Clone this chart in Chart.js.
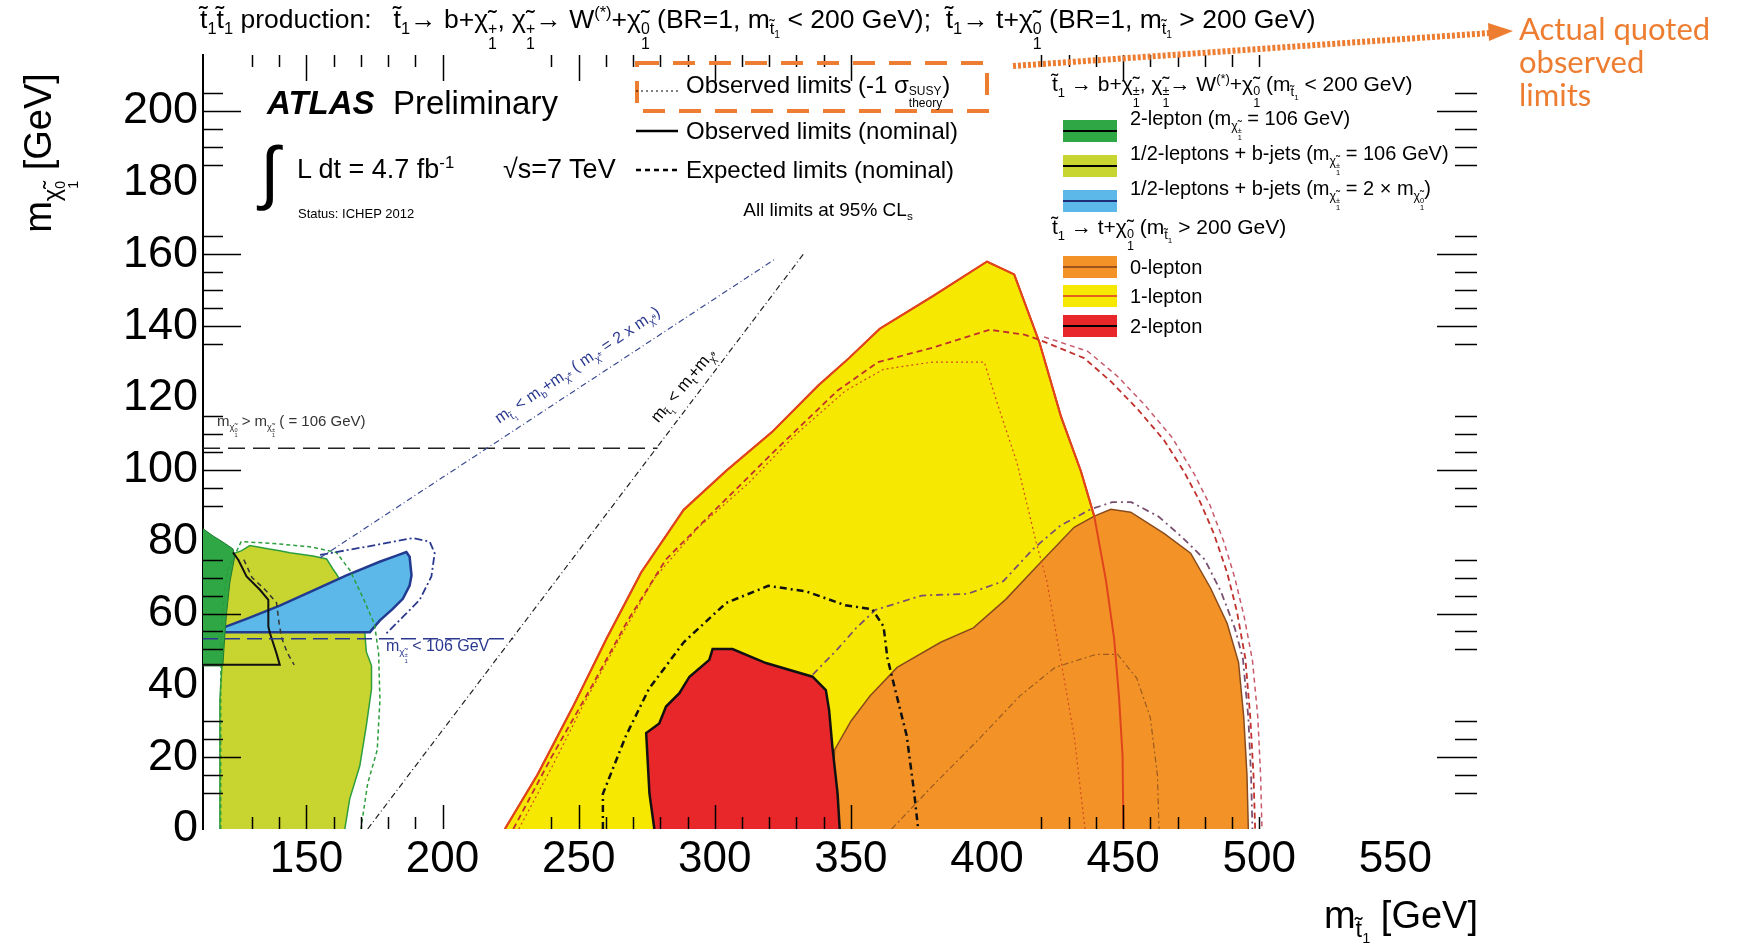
<!DOCTYPE html>
<html>
<head>
<meta charset="utf-8">
<script src="https://cdn.jsdelivr.net/npm/chart.js@4.4.1/dist/chart.umd.min.js"></script>
<style>
  body { margin: 0; background: #fff; }
  #wrap { position: relative; width: 1742px; height: 948px; font-family: 'Liberation Sans', Arial, sans-serif; color: #000; overflow: hidden; }
  #wrap canvas, #wrap svg { position: absolute; left: 0; top: 0; }
  #wrap svg { pointer-events: none; }
  .t { position: absolute; white-space: nowrap; line-height: 1; transform: translateY(-50%); }
  sub, sup { line-height: 0; font-size: 0.62em; }
  .ss { display: inline-flex; flex-direction: column; font-size: 0.6em; line-height: 0.95; vertical-align: -0.35em; }
  .box { position: absolute; left: 1063px; width: 54px; height: 22px; }
  .box i { position: absolute; left: 0; right: 0; top: 10px; height: 2px; }
</style>
</head>
<body>
<div id="wrap">
  <canvas id="c" width="1742" height="948"></canvas>
  <svg width="1742" height="948">
    <line x1="1013" y1="66" x2="1490" y2="33" stroke="#ED7D31" stroke-width="6" stroke-dasharray="3 2"/>
    <polygon points="1513,31 1489,41 1488,23" fill="#ED7D31"/>
    <rect x="637" y="63" width="350" height="48" fill="none" stroke="#ED7D31" stroke-width="4" stroke-dasharray="22 14"/>
    <line x1="636" y1="91" x2="678" y2="91" stroke="#000" stroke-width="1.2" stroke-dasharray="2 3"/>
    <line x1="636" y1="131" x2="678" y2="131" stroke="#000" stroke-width="2.5"/>
    <line x1="636" y1="170" x2="678" y2="170" stroke="#000" stroke-width="2.5" stroke-dasharray="5 4"/>
  </svg>

  <div class="t" style="left:200px;top:28px;font-size:26.5px">t&#771;<sub>1</sub>t&#771;<sub>1</sub> production:&nbsp;&nbsp; t&#771;<sub>1</sub>&#8594; b+&#967;&#771;<span class="ss"><span>+</span><span>1</span></span>, &#967;&#771;<span class="ss"><span>+</span><span>1</span></span>&#8594; W<sup>(*)</sup>+&#967;&#771;<span class="ss"><span>0</span><span>1</span></span> (BR=1, m<sub>t&#771;<sub>1</sub></sub> &lt; 200 GeV);&nbsp; t&#771;<sub>1</sub>&#8594; t+&#967;&#771;<span class="ss"><span>0</span><span>1</span></span> (BR=1, m<sub>t&#771;<sub>1</sub></sub> &gt; 200 GeV)</div>

  <div class="t" style="left:1519px;top:61px;font-family:Lato,'Open Sans',sans-serif;font-size:31px;color:#ED7D31;line-height:33px">Actual quoted<br>observed<br>limits</div>

  <div class="t" style="left:267px;top:102px;font-size:33px"><b><i>ATLAS</i></b>&nbsp; Preliminary</div>
  <div class="t" style="left:260px;top:172px;font-size:70px;font-family:'DejaVu Sans',sans-serif;font-weight:200">&#8747;</div>
  <div class="t" style="left:297px;top:169px;font-size:27px">L dt = 4.7 fb<sup>-1</sup></div>
  <div class="t" style="left:503px;top:169px;font-size:27px">&#8730;s=7 TeV</div>
  <div class="t" style="left:298px;top:213px;font-size:13px">Status: ICHEP 2012</div>

  <div class="t" style="left:686px;top:91px;font-size:24px">Observed limits (-1 &#963;<span class="ss" style="font-size:0.5em;vertical-align:-0.2em"><span>SUSY</span><span>theory</span></span>)</div>
  <div class="t" style="left:686px;top:131px;font-size:24px">Observed limits (nominal)</div>
  <div class="t" style="left:686px;top:170px;font-size:24px">Expected limits (nominal)</div>
  <div class="t" style="left:828px;top:209px;font-size:19px;transform:translate(-50%,-50%)">All limits at 95% CL<sub>s</sub></div>

  <div class="t" style="left:1052px;top:92px;font-size:21px">t&#771;<sub>1</sub> &#8594; b+&#967;&#771;<span class="ss"><span>&#177;</span><span>1</span></span>, &#967;&#771;<span class="ss"><span>&#177;</span><span>1</span></span>&#8594; W<sup>(*)</sup>+&#967;&#771;<span class="ss"><span>0</span><span>1</span></span> (m<sub>t&#771;<sub>1</sub></sub> &lt; 200 GeV)</div>
  <div class="box" style="top:120px;background:#2fa744"><i style="background:#000"></i></div>
  <div class="t" style="left:1130px;top:124px;font-size:20px">2-lepton (m<sub>&#967;&#771;<span class="ss"><span>&#177;</span><span>1</span></span></sub> = 106 GeV)</div>
  <div class="box" style="top:155px;background:#c8d530"><i style="background:#000"></i></div>
  <div class="t" style="left:1130px;top:159px;font-size:20px">1/2-leptons + b-jets (m<sub>&#967;&#771;<span class="ss"><span>&#177;</span><span>1</span></span></sub> = 106 GeV)</div>
  <div class="box" style="top:190px;background:#5bb8e8"><i style="background:#1d2d7a"></i></div>
  <div class="t" style="left:1130px;top:194px;font-size:20px">1/2-leptons + b-jets (m<sub>&#967;&#771;<span class="ss"><span>&#177;</span><span>1</span></span></sub> = 2 &#215; m<sub>&#967;&#771;<span class="ss"><span>0</span><span>1</span></span></sub>)</div>
  <div class="t" style="left:1052px;top:235px;font-size:21px">t&#771;<sub>1</sub> &#8594; t+&#967;&#771;<span class="ss"><span>0</span><span>1</span></span> (m<sub>t&#771;<sub>1</sub></sub> &gt; 200 GeV)</div>
  <div class="box" style="top:256px;background:#f39327"><i style="background:#a0521d"></i></div>
  <div class="t" style="left:1130px;top:267px;font-size:20px">0-lepton</div>
  <div class="box" style="top:285px;background:#f6e800"><i style="background:#e2601c"></i></div>
  <div class="t" style="left:1130px;top:296px;font-size:20px">1-lepton</div>
  <div class="box" style="top:315px;background:#e8272b"><i style="background:#000"></i></div>
  <div class="t" style="left:1130px;top:326px;font-size:20px">2-lepton</div>

  <div class="t" style="left:217px;top:426px;font-size:15px;color:#333">m<sub>&#967;&#771;<span class="ss"><span>0</span><span>1</span></span></sub> &gt; m<sub>&#967;&#771;<span class="ss"><span>&#177;</span><span>1</span></span></sub> ( = 106 GeV)</div>
  <div class="t" style="left:386px;top:651px;font-size:16px;color:#2b3990">m<sub>&#967;&#771;<span class="ss"><span>&#177;</span><span>1</span></span></sub> &lt; 106 GeV</div>
  <div class="t" style="left:578px;top:366px;font-size:16px;color:#2b3990;transform:translate(-50%,-50%) rotate(-34deg)">m<sub>t&#771;<sub>1</sub></sub> &lt; m<sub>b</sub>+m<sub>&#967;&#771;<sup>&#177;</sup></sub> ( m<sub>&#967;&#771;<sup>&#177;</sup></sub> = 2 x m<sub>&#967;&#771;<sup>0</sup></sub>)</div>
  <div class="t" style="left:684px;top:386px;font-size:17px;transform:translate(-50%,-50%) rotate(-50deg)">m<sub>t&#771;<sub>1</sub></sub> &lt; m<sub>t</sub>+m<sub>&#967;&#771;<sup>0</sup></sub></div>

  <div class="t" style="left:50px;top:153px;font-size:38px;transform:translate(-50%,-50%) rotate(-90deg)">m<sub>&#967;&#771;<span class="ss"><span>0</span><span>1</span></span></sub> [GeV]</div>
  <div class="t" style="right:264px;top:917px;font-size:38px">m<sub>t&#771;<sub>1</sub></sub> [GeV]</div>
</div>

<script>
// values: [m_stop, m_neutralino] in GeV
const oneLepton = [[222.9,0],[234.9,15.2],[247.6,33.6],[260.3,53.1],[273,71.5],[288.6,88.9],[304.1,99.7],[321,110.5],[338,123.5],[349.3,131.1],[360.6,139.3],[380.4,148.5],[400,158],[410,154.4],[419.3,135.4],[427.2,114.8],[434.5,99.6],[439.4,87.1],[443.7,69.2],[446.7,53],[448.5,36.7],[449.8,20.4],[450.1,0]];
const zeroLepton = [[343,0],[344,22],[350,30],[357,37],[367,45],[383,52],[395,56],[407,64],[420,74.5],[432,84],[439.4,87.1],[445.5,89],[452.8,88.2],[465,82.3],[474.8,76.8],[482.1,67.1],[488.2,57.3],[492.4,46.4],[494.3,31.3],[495.5,15],[496,0]];
const twoLepton = [[277.8,0],[276,9.9],[274.8,26.7],[279.6,29.4],[282.1,34.1],[287,37.8],[290.7,42.4],[298,47.1],[299.2,50.1],[306.5,50.1],[318.8,46.2],[335.9,42.4],[340.8,38.7],[342,33.1],[343.2,22.9],[345.1,9.9],[345.9,0]];
const bjetsSame = [[118,0],[118.2,36],[119,46],[120,64],[121.2,72.4],[123,76.6],[126.2,77.5],[129.2,78.9],[135.8,78],[140.2,77.5],[143.9,76.9],[152.4,76],[157.4,75.2],[159.7,72.4],[161,71],[165,66],[169,60],[171.4,55],[172,49.3],[173.9,45.5],[173.9,39],[172,28.8],[169.6,17.6],[165.9,8.4],[164.1,0]];
const bjetsHalf = [[118.2,55.7],[128,58.5],[140.2,62.2],[152.4,66.4],[164.7,70.6],[176.9,74.4],[183.1,76.1],[186.7,77.1],[187.9,75.8],[188.6,70.6],[187.9,67.8],[185.4,64.1],[181.7,61.3],[176.9,58],[173.3,54.8],[118.2,54.8]];
const twoLeptonLow = [[112,83.6],[115.7,81.6],[119.3,79.9],[123,78],[123.7,76],[121.9,68.8],[120.7,60.4],[120.1,54.9],[119.3,45.4],[112,45.4]];

const twoLeptonLowObs = [[123,77],[125,74.9],[128,70.3],[132.9,66.6],[136,63.8],[136,56.4],[136.6,54.5],[139,48.9],[140.2,45.7],[112,45.7]];
const twoLeptonLowExp = [[127,75],[130,70],[135,66.5],[139,63],[140,57],[141,53],[143,49],[145.5,45.7]];
const bjetsHalfExp = [[155,76.3],[172,78.6],[189.1,81],[195.3,80],[197.1,76.8],[195.9,70.3],[191.6,63.8],[185.5,59.1],[179.4,54.5]];
const bjetsSameExp = [[118.5,0],[118.5,40],[119,60],[121,72],[126,80],[138,79.5],[152,78.5],[161,77],[166,72],[171,64],[175,57],[176.5,49],[177,36],[176,22],[172.5,12.7],[170,0]];
const twoLeptonExp = [[258.9,0],[258.9,9.8],[267.4,26],[275.8,39],[288.6,52],[304.1,62.9],[319.6,67.7],[333.8,66.1],[347.9,62.3],[357.8,61.2],[362,56.4],[363.4,47.7],[366.2,39],[370.5,26],[373.3,9.8],[374.7,0]];
const oneLeptonExp = [[226,0],[240,20],[255,40],[268,58],[282,75],[299,88],[323,106],[345,122],[360,130],[380,134],[401,139],[414,137.6],[419.9,136],[435.7,131.1],[445.5,124.6],[455.2,117],[465,108.3],[472.3,99.6],[478.4,90.9],[483.3,82.3],[488.2,71.4],[491.8,60.6],[494.9,47.5],[496.7,31.3],[497.9,15],[498.5,0]];
const oneLeptonExpOuter = [[421,137],[437,133],[448,126],[458,118],[468,109],[476,99],[482,90],[487,80],[491,70],[494.5,59],[497.5,47],[499.5,31],[500.5,15],[501,0]];
const oneLeptonMinus = [[228,0],[240,17],[252,35],[265,53],[278,70],[294,84],[312,96],[330,110],[348,122],[362,128],[380,130],[399,130],[404,118],[411,102],[418,80],[422,69],[427,47.5],[432,26],[436,0]];
const zeroLeptonExp = [[336,43],[345,50],[352,56],[359,61],[376,65],[393,65.5],[406,69],[417,78],[427,84.5],[438,89],[446,91],[453,91],[463,87],[472,81],[480,75],[486,66],[491,56],[494,47.5],[496,31],[497,15],[497.5,0]];
const zeroLeptonMinus = [[365,0],[380,12],[397,25],[412,37],[425,45],[440,48.6],[448,48.6],[455,42],[460,31],[462.6,15],[463.2,0]];

const topLimit = [[172.5,0],[333,160.5]];
const bLimit = [[155,75.5],[322,158.6]];
const charginoLine106 = [[112,106],[279,106]];
const charginoLine53 = [[112,53],[226,53]];

const xTickLabels = [150, 200, 250, 300, 350, 400, 450, 500, 550];
const yTickLabels = [0, 20, 40, 60, 80, 100, 120, 140, 160, 180, 200];
const xTickMarks = [130,140,150,160,170,180,190,200,240,250,260,270,280,290,300,310,320,330,340,350,420,430,440,450,460,470,480,490,500];
const xMajor = [150, 200, 250, 300, 350, 450];
const yTickMarks = [10,15,20,25,30,50,55,60,65,70,75,90,95,100,105,110,115,135,140,145,150,155,160,165,185,190,195,200,205];
const yMajor = [20, 60, 100, 140, 160, 200];

const pts = a => a.map(([x, y]) => ({x, y}));

function area(label, data, fillColor, edgeColor, edgeWidth, order) {
  return { label, data: pts(data), showLine: true, fill: 'shape', backgroundColor: fillColor,
           borderColor: edgeColor, borderWidth: edgeWidth, pointRadius: 0, order };
}
function curve(label, data, color, width, dash, order) {
  return { label, data: pts(data), showLine: true, fill: false, borderColor: color,
           borderWidth: width, borderDash: dash, pointRadius: 0, order: order || 1 };
}

// ROOT style ticks pointing into the frame on all four sides
const insideTicks = {
  id: 'insideTicks',
  afterDatasetsDraw(chart) {
    const {ctx, chartArea: a, scales: {x, y}} = chart;
    ctx.save();
    ctx.strokeStyle = '#000';
    ctx.lineWidth = 1.5;
    ctx.beginPath();
    xTickMarks.forEach(v => {
      const px = Math.round(x.getPixelForValue(v)) + 0.5;
      const big = xMajor.includes(v);
      ctx.moveTo(px, a.bottom); ctx.lineTo(px, a.bottom - (big ? 24 : 12));
      ctx.moveTo(px, a.top); ctx.lineTo(px, a.top + (big ? 26 : 12));
    });
    yTickMarks.forEach(v => {
      const py = Math.round(y.getPixelForValue(v)) + 0.5;
      const big = yMajor.includes(v);
      ctx.moveTo(a.left, py); ctx.lineTo(a.left + (big ? 38 : 20), py);
      ctx.moveTo(a.right, py); ctx.lineTo(a.right - (big ? 40 : 22), py);
    });
    ctx.stroke();
    ctx.restore();
  }
};

new Chart(document.getElementById('c'), {
  type: 'scatter',
  data: {
    datasets: [
      area('1-lepton', oneLepton, '#f6e800', '#e0441c', 2, 100),
      area('0-lepton', zeroLepton, '#f39327', '#8a4b1c', 1.5, 90),
      area('2-lepton', twoLepton, '#e8272b', '#111', 2.5, 80),
      area('1/2-leptons + b-jets (106)', bjetsSame, '#c8d530', '#2e9e3e', 1.5, 70),
      area('1/2-leptons + b-jets (2x)', bjetsHalf, '#5bb8e8', '#223a8f', 2.5, 60),
      area('2-lepton (106)', twoLeptonLow, '#2fa744', '#1e7b30', 1, 50),
      curve('1-lepton edge', oneLepton, '#e0441c', 2, [], 5),
      curve('2-lepton low obs', twoLeptonLowObs, '#111', 2, [], 4),
      curve('2-lepton low exp', twoLeptonLowExp, '#333', 1.5, [5, 4], 4),
      curve('b-jets 2x exp', bjetsHalfExp, '#2b3a8f', 1.8, [8, 3, 2, 3], 4),
      curve('b-jets 106 exp', bjetsSameExp, '#2e9e3e', 1.5, [4, 3], 4),
      curve('2-lepton exp', twoLeptonExp, '#111', 2.5, [7, 4, 2, 4], 3),
      curve('1-lepton exp', oneLeptonExp, '#c0302c', 1.8, [6, 4], 3),
      curve('1-lepton exp outer', oneLeptonExpOuter, '#c85a6a', 1.5, [5, 4], 3),
      curve('1-lepton -1 sigma', oneLeptonMinus, '#d24a1e', 1.2, [2, 3], 3),
      curve('0-lepton exp', zeroLeptonExp, '#7a5070', 1.8, [7, 4, 2, 4], 3),
      curve('0-lepton -1 sigma', zeroLeptonMinus, '#9a5a20', 1.2, [6, 3, 2, 3], 3),
      curve('m_t limit', topLimit, '#222', 1.2, [6, 3, 1, 3], 2),
      curve('m_b limit', bLimit, '#3a4a90', 1.2, [6, 3, 1, 3], 2),
      curve('chargino 106', charginoLine106, '#222', 1.5, [17, 8], 2),
      curve('chargino 53', charginoLine53, '#2b3990', 1.5, [15, 7], 2)
    ]
  },
  options: {
    responsive: false,
    animation: false,
    events: [],
    layout: { padding: { left: 0, right: 265, top: 55, bottom: 0 } },
    plugins: { legend: { display: false }, tooltip: { enabled: false } },
    scales: {
      x: {
        type: 'linear', min: 112, max: 580,
        grid: { display: false, drawTicks: false },
        border: { display: false },
        afterFit: s => { s.height = 119; },
        afterBuildTicks: s => { s.ticks = xTickLabels.map(v => ({value: v})); },
        ticks: { color: '#000', padding: 4, maxRotation: 0, autoSkip: false,
                 font: { family: "'Liberation Sans', Arial", size: 44 } }
      },
      y: {
        type: 'linear', min: 0, max: 215.5,
        grid: { display: false, drawTicks: false },
        border: { display: true, color: '#000', width: 2 },
        afterFit: s => { s.width = 203; },
        afterBuildTicks: s => { s.ticks = yTickLabels.map(v => ({value: v})); },
        ticks: { color: '#000', padding: 5, autoSkip: false,
                 font: { family: "'Liberation Sans', Arial", size: 45 } }
      }
    }
  },
  plugins: [insideTicks]
});
</script>
</body>
</html>
